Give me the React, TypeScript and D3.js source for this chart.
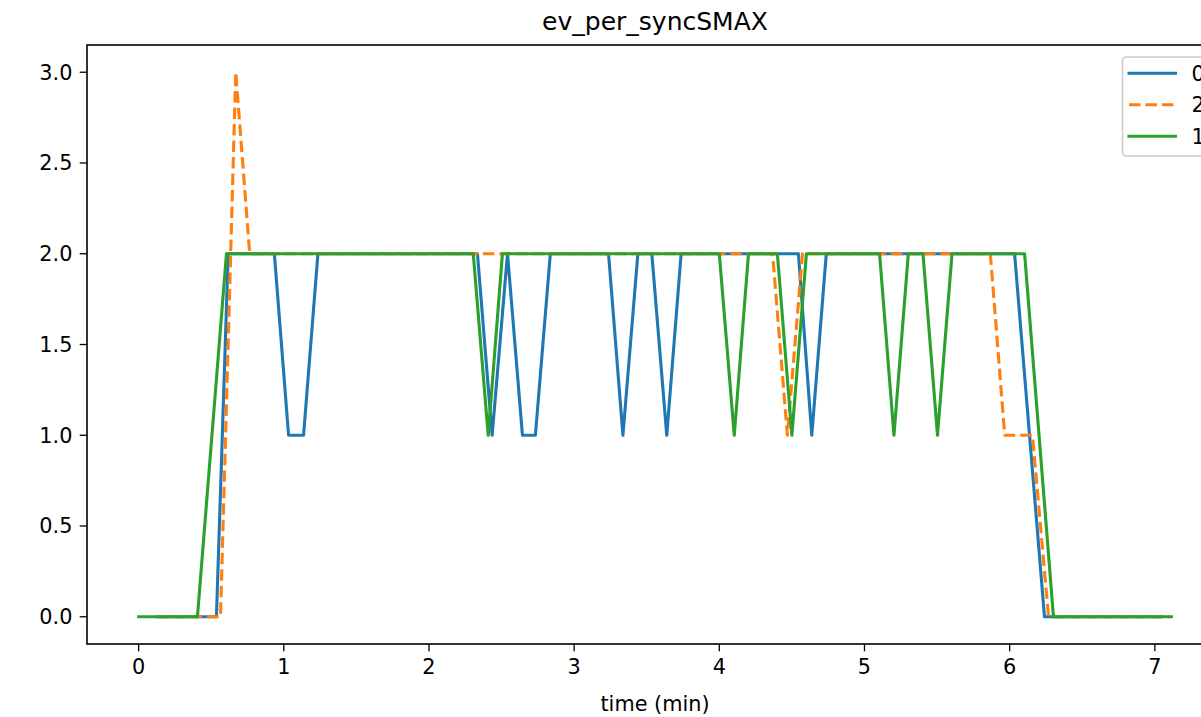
import React from "react";
import * as d3 from "d3";

const seriesNames = ["0", "2", "1"];
const colors = ["#1f77b4", "#ff7f0e", "#2ca02c"];
const dashes = [null, "11.5,5", null];

const blueT = [0.13, 0.536, 0.617, 0.935, 1.033, 1.136, 1.235, 2.334, 2.435, 2.541, 2.644, 2.733, 2.836, 3.237, 3.336, 3.439, 3.535, 3.638, 3.737, 4.545, 4.637, 4.737, 6.034, 6.24, 7.04];
const blueV = [0, 0, 2, 2, 1, 1, 2, 2, 1, 2, 1, 1, 2, 2, 1, 2, 2, 1, 2, 2, 1, 2, 2, 0, 0];

const orangeT = [0.13, 0.564, 0.669, 0.765, 4.367, 4.469, 4.573, 5.867, 5.966, 6.157, 6.268, 7.1];
const orangeV = [0, 0, 3, 2, 2, 1, 2, 2, 1, 1, 0, 0];

const greenT = [0, 0.405, 0.605, 2.305, 2.408, 2.506, 4.0, 4.103, 4.201, 4.4, 4.5, 4.6, 5.104, 5.203, 5.302, 5.403, 5.503, 5.603, 6.103, 6.302, 7.114];
const greenV = [0, 0, 2, 2, 1, 2, 2, 1, 2, 2, 1, 2, 2, 1, 2, 2, 1, 2, 2, 0, 0];

const xTicks = [0, 1, 2, 3, 4, 5, 6, 7];
const yTicks = [0, 0.5, 1, 1.5, 2, 2.5, 3];

const W = 1201;
const H = 717;
const left = 87;
const right = 1223;
const top = 45;
const bottom = 644;

export default function App() {
  const x = d3.scaleLinear().domain([-0.3557, 7.4697]).range([left, right]);
  const y = d3.scaleLinear().domain([-0.15, 3.15]).range([bottom, top]);
  const line = d3
    .line<[number, number]>()
    .x((d) => x(d[0]))
    .y((d) => y(d[1]));
  const data: [number, number][][] = [
    blueT.map((t, i) => [t, blueV[i]]),
    orangeT.map((t, i) => [t, orangeV[i]]),
    greenT.map((t, i) => [t, greenV[i]]),
  ];
  const font = "DejaVu Sans, sans-serif";
  const tickLen = 7.3;
  const legX = 1122.5;
  const legY = 57;
  return (
    <svg
      width={W}
      height={H}
      style={{ position: "absolute", left: 0, top: 0, background: "#fff" }}
      fontFamily={font}
    >
      <rect x={0} y={0} width={W} height={H} fill="#fff" />
      <defs>
        <clipPath id="plot">
          <rect x={left} y={top} width={right - left} height={bottom - top} />
        </clipPath>
      </defs>
      <g clipPath="url(#plot)">
        {data.map((d, i) => (
          <path
            key={i}
            d={line(d) || ""}
            fill="none"
            stroke={colors[i]}
            strokeWidth={3.1}
            strokeDasharray={dashes[i] || undefined}
            strokeLinejoin="round"
            strokeLinecap={dashes[i] ? "butt" : "square"}
          />
        ))}
      </g>
      <rect x={left} y={top} width={right - left} height={bottom - top} fill="none" stroke="#000" strokeWidth={1.6} />
      {xTicks.map((t) => (
        <g key={"x" + t}>
          <line x1={x(t)} x2={x(t)} y1={bottom} y2={bottom + tickLen} stroke="#000" strokeWidth={1.3} />
          <text x={x(t)} y={bottom + tickLen + 7.3 + 15.5} textAnchor="middle" fontSize={20.8}>
            {t}
          </text>
        </g>
      ))}
      {yTicks.map((t) => (
        <g key={"y" + t}>
          <line x1={left - tickLen} x2={left} y1={y(t)} y2={y(t)} stroke="#000" strokeWidth={1.3} />
          <text x={left - tickLen - 7.3} y={y(t)} dy="0.35em" textAnchor="end" fontSize={20.8}>
            {t.toFixed(1)}
          </text>
        </g>
      ))}
      <text x={(left + right) / 2} y={711} textAnchor="middle" fontSize={20.8}>
        time (min)
      </text>
      <text x={(left + right) / 2} y={30} textAnchor="middle" fontSize={25}>
        ev_per_syncSMAX
      </text>
      <g>
        <rect x={legX} y={legY} width={120} height={99} rx={4} fill="#fff" fillOpacity={0.8} stroke="#ccc" strokeWidth={1.6} />
        {seriesNames.map((s, i) => {
          const yy = legY + 16.3 + i * 31.5;
          return (
            <g key={s}>
              <line
                x1={legX + 6.5}
                x2={legX + 53}
                y1={yy}
                y2={yy}
                stroke={colors[i]}
                strokeWidth={3.1}
                strokeDasharray={dashes[i] || undefined}
                strokeLinecap={dashes[i] ? "butt" : "square"}
              />
              <text x={legX + 69} y={yy} dy="0.35em" fontSize={20.8}>
                {s}
              </text>
            </g>
          );
        })}
      </g>
    </svg>
  );
}
